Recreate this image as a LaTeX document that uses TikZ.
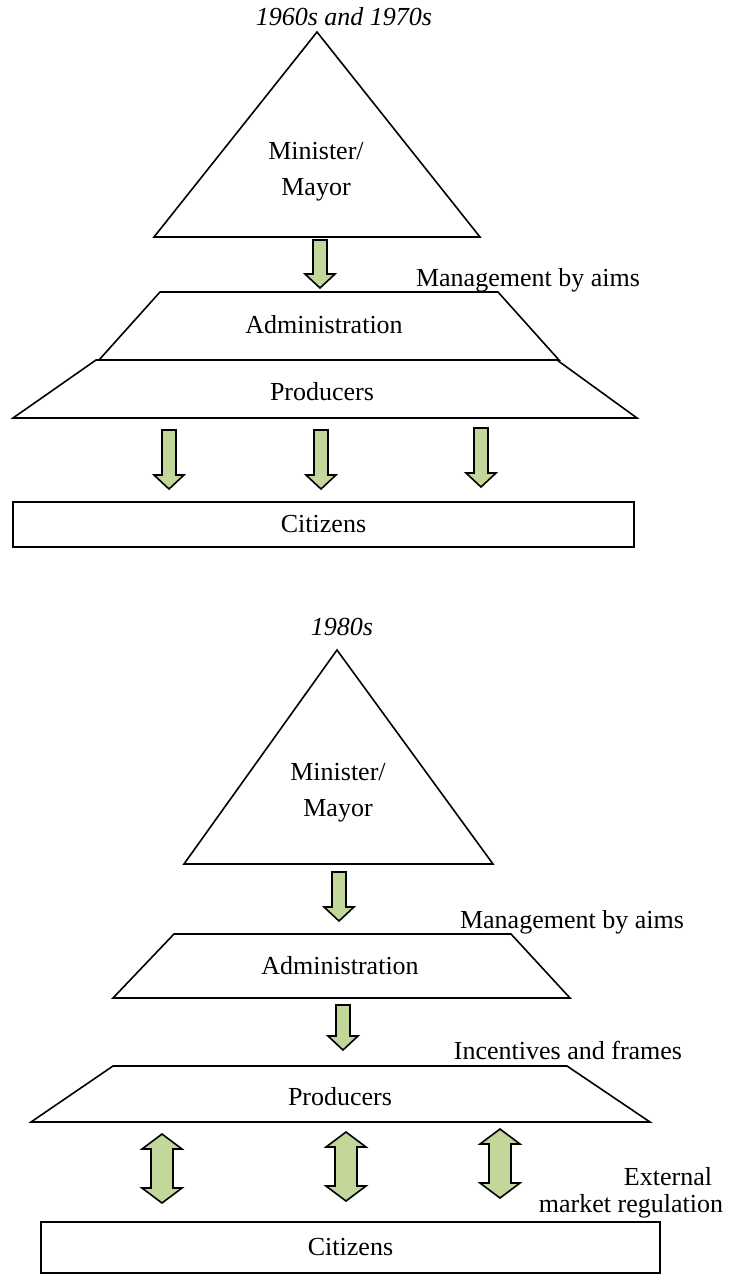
\documentclass[tikz,border=0pt]{standalone}
\usepackage{fontspec}
\setmainfont{Liberation Serif}
\usepackage{tikz}
\definecolor{arrowgreen}{RGB}{196,215,155}
\tikzset{%
  layer/.style = {draw,line width=0.8pt,line join=miter},
  blockarrow/.style = {draw,line width=0.8pt,fill=arrowgreen,line join=miter},
  lbl/.style = {inner sep=0pt,font=\fontsize{13}{16}\selectfont},
  period/.style = {lbl,font=\fontsize{13}{16}\selectfont\itshape},
  box/.style = {rectangle,draw,line width=0.8pt,inner sep=0pt}
}
% block arrow pointing down: x, top, tip
\newcommand{\arrowdown}[3]{%
  \draw[blockarrow] (#1-7,#2) -- (#1+7,#2) -- (#1+7,#3-14) -- (#1+15,#3-14)
    -- (#1,#3) -- (#1-15,#3-14) -- (#1-7,#3-14) -- cycle;}
% block arrow pointing both ways: x, top, bottom
\newcommand{\arrowboth}[3]{%
  \draw[blockarrow] (#1,#2) -- (#1+20,#2+15) -- (#1+11,#2+15) -- (#1+11,#3-15)
    -- (#1+20,#3-15) -- (#1,#3) -- (#1-20,#3-15) -- (#1-11,#3-15)
    -- (#1-11,#2+15) -- (#1-20,#2+15) -- cycle;}

\begin{document}
\begin{tikzpicture}[x=0.5pt,y=-0.5pt]
\useasboundingbox (0,0) rectangle (729,1276);

% 1960s and 1970s
\node[period] (period1) at (344,17) {1960s and 1970s};
\draw[layer] (317,32) -- (480,237) -- (154,237) -- cycle;
\node[lbl,align=center,font=\fontsize{13}{18}\selectfont] (top1) at (316,172) {Minister/\\Mayor};
\arrowdown{320}{240}{288}
\node[lbl] (aims1) at (528,280) {Management by aims};
\draw[layer] (160,292) -- (498,292) -- (559,360) -- (99,360) -- cycle;
\node[lbl] (admin1) at (324,325) {Administration};
\draw[layer] (96,360) -- (557,360) -- (637,418) -- (13,418) -- cycle;
\node[lbl] (prod1) at (322,392) {Producers};
\arrowdown{169}{430}{489}
\arrowdown{321}{430}{489}
\arrowdown{481}{428}{487}
\node[box,minimum width=310.5pt,minimum height=22.5pt] (cit1) at (323.5,524.5) {};
\node[lbl] (cit1text) at (cit1.center) {Citizens};

% 1980s
\node[period] (period2) at (342,627) {1980s};
\draw[layer] (337,650) -- (493,864) -- (184,864) -- cycle;
\node[lbl,align=center,font=\fontsize{13}{18}\selectfont] (top2) at (338,793) {Minister/\\Mayor};
\arrowdown{339}{872}{921}
\node[lbl] (aims2) at (572,922) {Management by aims};
\draw[layer] (174,934) -- (511,934) -- (570,998) -- (113,998) -- cycle;
\node[lbl] (admin2) at (340,966) {Administration};
\arrowdown{343}{1005}{1050}
\node[lbl] (frames) at (568,1050) {Incentives and frames};
\draw[layer] (113,1066) -- (567,1066) -- (650,1122) -- (31,1122) -- cycle;
\node[lbl] (prod2) at (340,1097) {Producers};
\arrowboth{162}{1134}{1203}
\arrowboth{346}{1132}{1201}
\arrowboth{500}{1129}{1198}
\node[lbl] (external) at (668,1177) {External};
\node[lbl] (market) at (631,1206) {market regulation};
\node[box,minimum width=309.5pt,minimum height=25.5pt] (cit2) at (350.5,1247.5) {};
\node[lbl] (cit2text) at (cit2.center) {Citizens};
\end{tikzpicture}
\end{document}
